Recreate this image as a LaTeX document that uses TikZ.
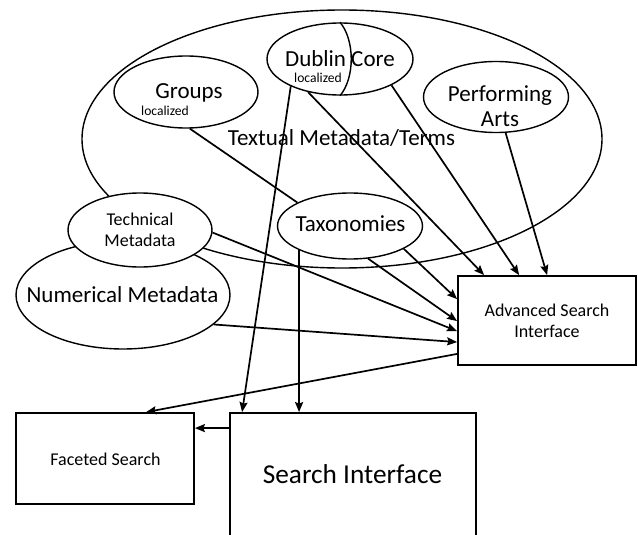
\documentclass[tikz,border=0pt]{standalone}
\usepackage{fontspec}
\setmainfont{Carlito}
\usetikzlibrary{shapes.geometric,arrows.meta,calc}
\begin{document}
\begin{tikzpicture}[x=1pt,y=-1pt,
  ell/.style={draw, ellipse, inner sep=0pt, line width=1.4pt, fill=white},
  box/.style={draw, rectangle, inner sep=0pt, line width=1.8pt},
  conn/.style={line width=1.7pt},
  arr/.style={conn, -{Stealth[length=10pt,width=8pt,inset=1.5pt]}},
  big/.style={font=\fontsize{23}{27}\selectfont},
  mid/.style={font=\fontsize{18}{22}\selectfont},
  sml/.style={font=\fontsize{13.6}{16}\selectfont},
  txt/.style={inner sep=0pt, anchor=base}]
\useasboundingbox (0,0) rectangle (638,535);
\clip (0,0) rectangle (638,535);
% ellipses
\node[ell, fill=none, minimum width=520pt, minimum height=258pt] (tm) at (342,139) {};
\node[ell, minimum width=214pt, minimum height=108pt] (num) at (123,295) {};
\node[ell, minimum width=144pt, minimum height=74pt] (tech) at (140,230) {};
\node[ell, minimum width=144pt, minimum height=72pt] (grp) at (186,92) {};
\node[ell, minimum width=146pt, minimum height=72pt] (dc) at (340,59) {};
\node[ell, minimum width=145pt, minimum height=71pt] (pa) at (496,97) {};
\node[ell, minimum width=145pt, minimum height=66pt] (tax) at (350,226) {};
\draw[line width=1.4pt] (dc.north) .. controls (355,40) and (355,78) .. (dc.south);
% boxes
\node[box, minimum width=178pt, minimum height=89pt] (asi) at (547,320.5) {};
\node[box, minimum width=178pt, minimum height=91pt] (fs) at (105,458.5) {};
\node[box, minimum width=246pt, minimum height=124pt] (si) at (353,475) {};
% texts
\node[txt,big] (tdc) at (340,67) {Dublin Core};
\node[txt,sml] (ldc) at (318,83) {localized};
\node[txt,big] (tg) at (189,99) {Groups};
\node[txt,sml] (lg) at (165,116) {localized};
\node[txt,big] (tpa1) at (500,102) {Performing};
\node[txt,big] (tpa2) at (500,127) {Arts};
\node[txt,big] (ttm) at (341.5,146) {Textual Metadata/Terms};
\node[txt,mid] (tt1) at (140,225) {Technical};
\node[txt,mid] (tt2) at (140,246) {Metadata};
\node[txt,big] (tnum) at (122.5,302) {Numerical Metadata};
\node[txt,big] (ttax) at (350.5,231) {Taxonomies};
\node[txt,mid] (ta1) at (547,316) {Advanced Search};
\node[txt,mid] (ta2) at (547,337) {Interface};
\node[txt,mid] (tfs) at (105.5,465) {Faceted Search};
\node[txt,font=\fontsize{27.3}{32}\selectfont] (tsi) at (352.5,483) {Search Interface};
% connectors
\draw[conn] (grp.276) -- (tax.156);
\draw[arr] (dc.226) -- ($(asi.north west)+(27,0)$);
\draw[arr] (dc.333) -- ($(asi.north west)+(62,0)$);
\draw[arr] (pa.285) -- ($(asi.north west)+(90,0)$);
\draw[arr] (tax.337) -- ($(asi.north west)+(0,24)$);
\draw[arr] (tax.299) -- ($(asi.north west)+(0,46)$);
\draw[arr] (tech.358) -- ($(asi.north west)+(0,56)$);
\draw[arr] (num.342) -- ($(asi.north west)+(0,67)$);
\draw[arr] ($(asi.south west)+(0,-12)$) -- ($(fs.north west)+(131,0)$);
\draw[arr] (dc.209) -- ($(si.north west)+(13,0)$);
\path ($(tax.205)+(0.5,0)$) coordinate (tb);
\draw[arr, line width=1.9pt] (tb) -- (tb |- si.north);
\path ($(si.north west)+(0,16)$) coordinate (sl);
\draw[arr] (sl) -- (sl -| fs.east);
\end{tikzpicture}
\end{document}
